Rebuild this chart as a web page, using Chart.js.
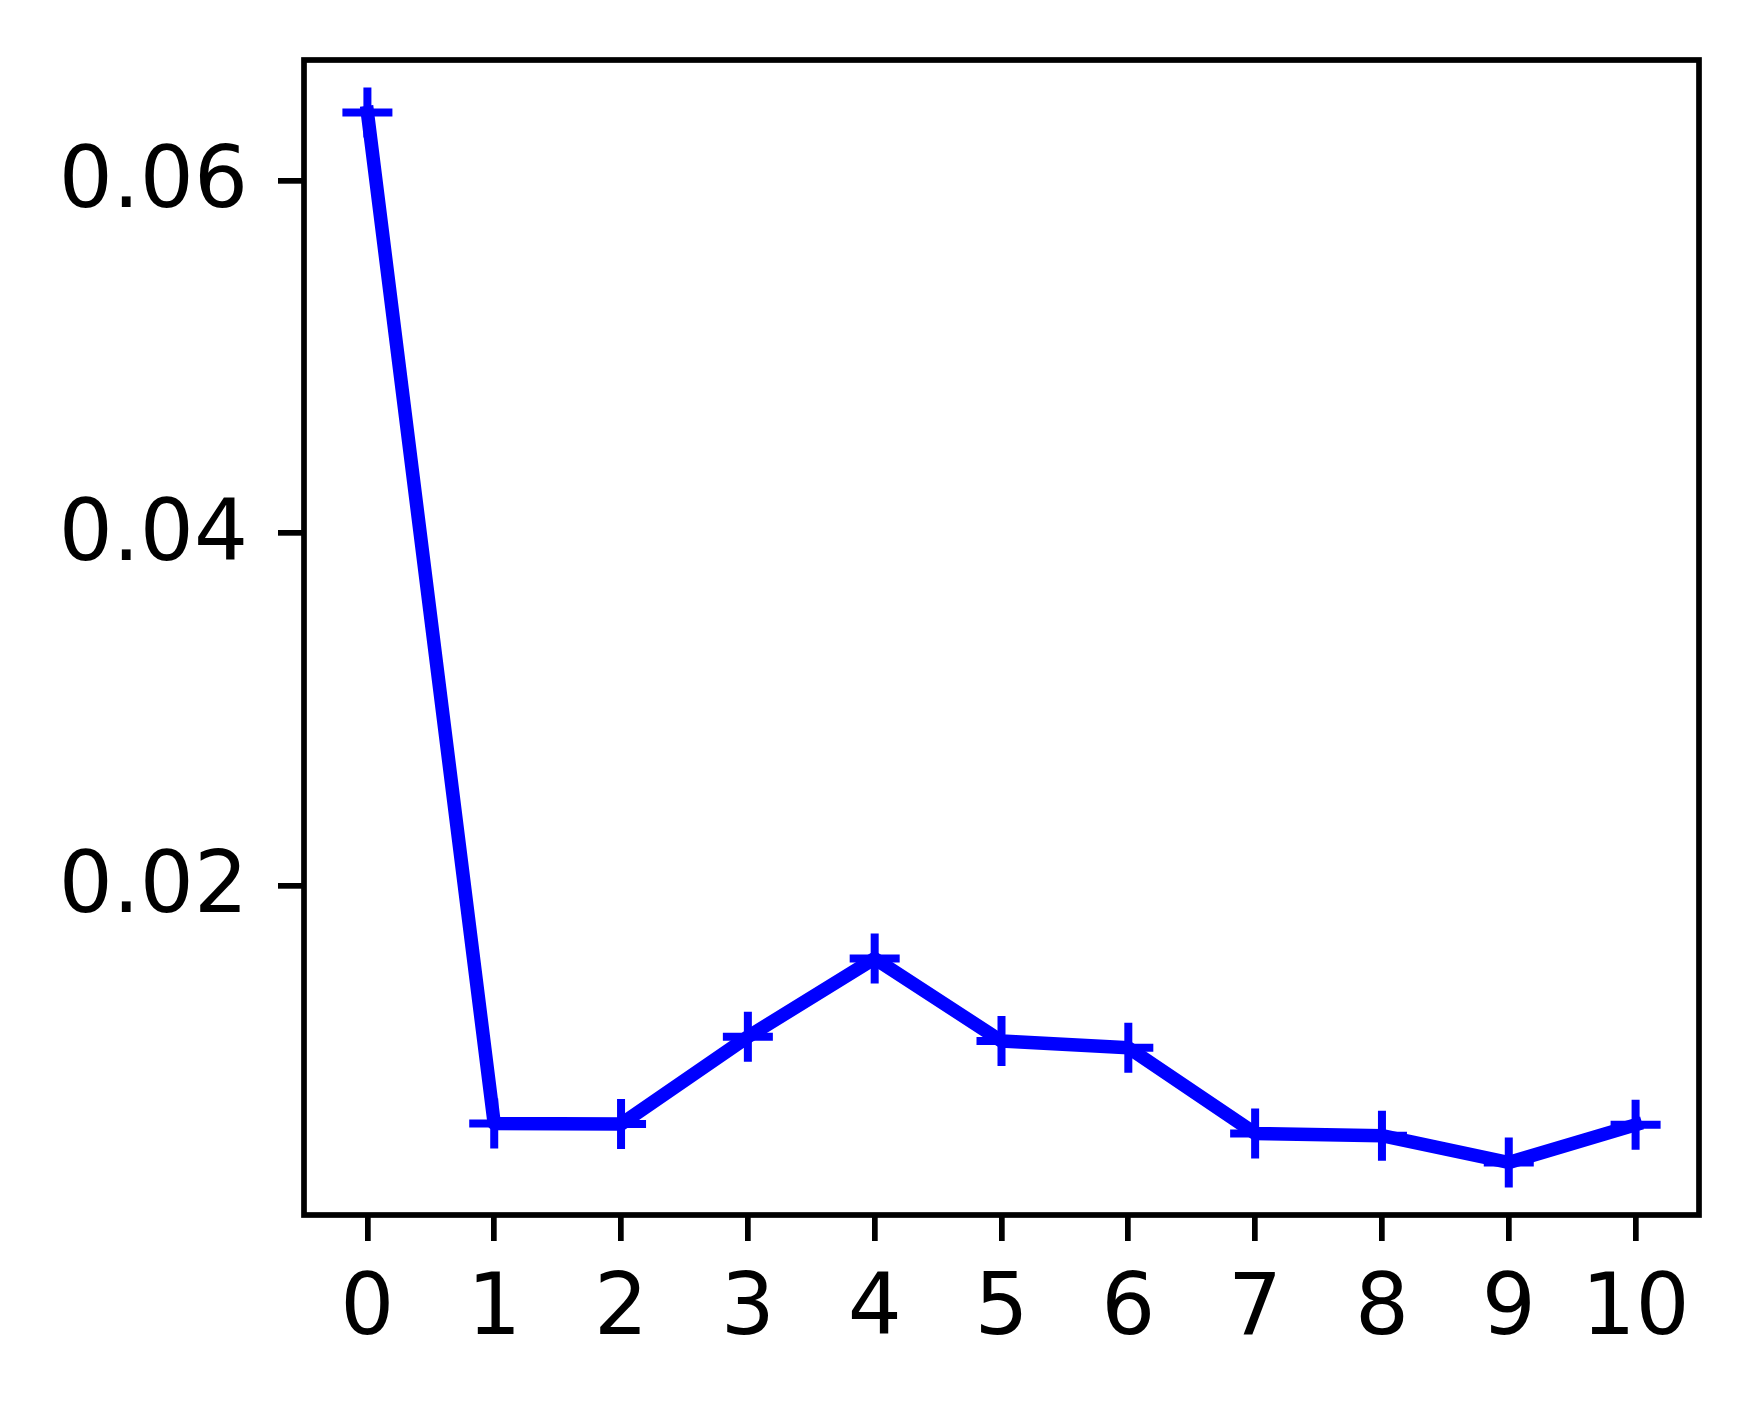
<!DOCTYPE html>
<html>
<head>
<meta charset="utf-8">
<script src="https://cdn.jsdelivr.net/npm/chart.js@4/dist/chart.umd.min.js"></script>
<style>
  html, body { margin: 0; padding: 0; background: #ffffff; }
  #wrap { width: 1758px; height: 1414px; }
</style>
</head>
<body>
<div id="wrap"><canvas id="c" width="1758" height="1414"></canvas></div>
<script>
// ---- data ----
const xValues = [0, 1, 2, 3, 4, 5, 6, 7, 8, 9, 10];
const yValues = [0.06385, 0.00649, 0.00646, 0.01141, 0.01585, 0.01117, 0.01079, 0.00593, 0.00580, 0.00428, 0.00642];
const xTickValues = [0, 1, 2, 3, 4, 5, 6, 7, 8, 9, 10];
const yTickValues = [0.02, 0.04, 0.06];
const yTickLabels = ['0.02', '0.04', '0.06'];

// matplotlib-like 5% autoscale margins
const xMinD = Math.min(...xValues), xMaxD = Math.max(...xValues);
const yMinD = Math.min(...yValues), yMaxD = Math.max(...yValues);
const xm = (xMaxD - xMinD) * 0.05, ym = (yMaxD - yMinD) * 0.05;

const FONT = { family: 'DejaVu Sans', size: 85 };
const SPINE = 5.7;

const framePlugin = {
  id: 'frame',
  afterDatasetsDraw(chart) {
    const a = chart.chartArea, ctx = chart.ctx;
    ctx.save();
    ctx.strokeStyle = '#000000';
    ctx.lineWidth = SPINE;
    ctx.lineJoin = 'miter';
    ctx.strokeRect(a.left, a.top, a.right - a.left, a.bottom - a.top);
    ctx.restore();
  }
};

function noPad(s) {
  s.paddingTop = 0; s.paddingBottom = 0; s.paddingLeft = 0; s.paddingRight = 0;
}

new Chart(document.getElementById('c'), {
  type: 'line',
  data: {
    datasets: [{
      data: xValues.map((x, i) => ({ x: x, y: yValues[i] })),
      borderColor: '#0000ff',
      borderWidth: 13.5,
      borderJoinStyle: 'round',
      borderCapStyle: 'square',
      pointStyle: 'cross',
      pointRadius: 25,
      pointHoverRadius: 25,
      pointBorderWidth: 8,
      pointBorderColor: '#0000ff',
      pointBackgroundColor: '#0000ff',
      fill: false,
      tension: 0,
      clip: 0
    }]
  },
  options: {
    responsive: false,
    devicePixelRatio: 1,
    animation: false,
    events: [],
    layout: { padding: { left: 0, top: 60, right: 59, bottom: 0 } },
    plugins: { legend: { display: false }, tooltip: { enabled: false } },
    scales: {
      x: {
        type: 'linear',
        min: xMinD - xm,
        max: xMaxD + xm,
        afterFit(s) { s.height = 199; noPad(s); },
        afterBuildTicks(s) { s.ticks = xTickValues.map(v => ({ value: v })); },
        border: { display: false },
        grid: {
          drawOnChartArea: false, drawTicks: true, tickLength: 26,
          tickWidth: SPINE, tickColor: '#000000', lineWidth: SPINE, color: '#000000'
        },
        ticks: {
          color: '#000000', font: FONT, padding: 20, maxRotation: 0, autoSkip: false,
          callback: (v) => String(v)
        }
      },
      y: {
        type: 'linear',
        min: yMinD - ym,
        max: yMaxD + ym,
        afterFit(s) { s.width = 304; noPad(s); },
        afterBuildTicks(s) { s.ticks = yTickValues.map(v => ({ value: v })); },
        border: { display: false },
        grid: {
          drawOnChartArea: false, drawTicks: true, tickLength: 26,
          tickWidth: SPINE, tickColor: '#000000', lineWidth: SPINE, color: '#000000'
        },
        ticks: {
          color: '#000000', font: FONT, padding: 30, labelOffset: 5, autoSkip: false,
          callback: (v) => { const i = yTickValues.indexOf(v); return i >= 0 ? yTickLabels[i] : ''; }
        }
      }
    }
  },
  plugins: [framePlugin]
});
</script>
</body>
</html>
